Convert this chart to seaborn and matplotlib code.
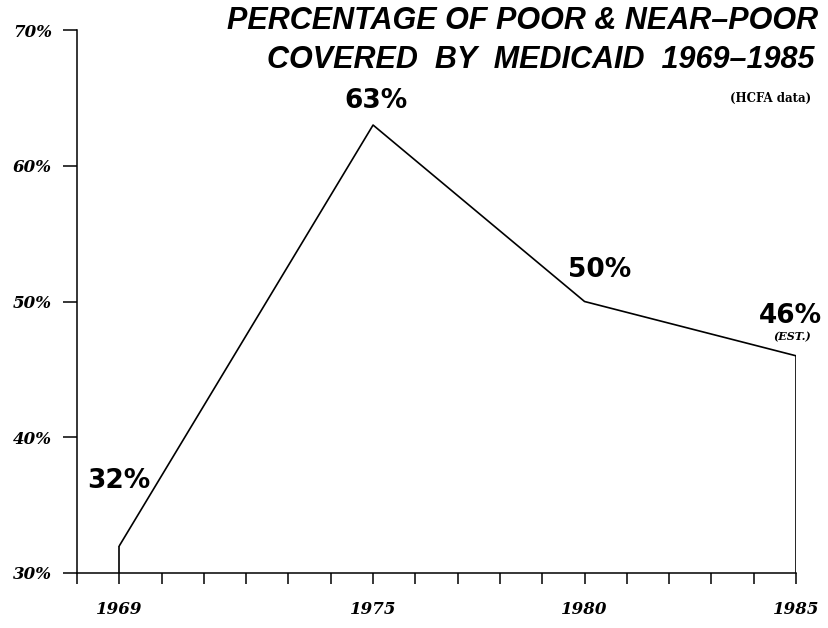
"""Percentage of poor & near-poor covered by Medicaid, 1969-1985 (HCFA data)."""

import matplotlib

matplotlib.use("Agg")
import matplotlib.pyplot as plt
import seaborn as sns

YEARS = [1969, 1975, 1980, 1985]
COVERAGE = [32, 63, 50, 46]
VALUE_LABELS = ["32%", "63%", "50%", "46%"]
Y_TICKS = [30, 40, 50, 60, 70]
Y_TICK_LABELS = ["30%", "40%", "50%", "60%", "70%"]
YEAR_TICKS = list(range(1968, 1986))
LABELED_YEARS = [1969, 1975, 1980, 1985]
TITLE_LINES = ["PERCENTAGE OF POOR & NEAR\u2013POOR", "COVERED  BY  MEDICAID  1969\u20131985"]

# label offsets in points from each data point
LABEL_OFFSETS = [(0, 47), (2, 17), (11, 23), (-4, 29)]


def draw_chart() -> None:
    sns.set_theme(style="white")
    plt.rcParams.update({"text.color": "black", "xtick.color": "black",
                         "ytick.color": "black", "axes.edgecolor": "black"})
    fig = plt.figure(figsize=(8.29, 6.28), dpi=100)
    ax = fig.add_axes([0.0929, 0.0876, 0.8673, 0.8646])

    sns.lineplot(x=YEARS, y=COVERAGE, color="black", linewidth=1.2, ax=ax)
    ax.vlines([YEARS[0], YEARS[-1]], Y_TICKS[0], [COVERAGE[0], COVERAGE[-1]],
              color="black", linewidth=1.2)

    ax.set_xlim(YEAR_TICKS[0], YEAR_TICKS[-1])
    ax.set_ylim(Y_TICKS[0], Y_TICKS[-1])
    sns.despine(ax=ax, top=True, right=True)
    for side in ("left", "bottom"):
        ax.spines[side].set_color("black")
        ax.spines[side].set_linewidth(1.1)

    tick_font = {"family": "DejaVu Serif", "style": "italic", "weight": "bold",
                 "size": 12, "color": "black"}
    ax.set_xticks(YEAR_TICKS)
    ax.set_xticklabels([str(y) if y in LABELED_YEARS else "" for y in YEAR_TICKS], fontdict=tick_font)
    ax.set_yticks(Y_TICKS)
    ax.set_yticklabels(Y_TICK_LABELS, fontdict=tick_font)
    ax.tick_params(axis="x", direction="out", length=8, width=1.1, color="black", pad=12)
    ax.tick_params(axis="y", direction="out", length=10, width=1.1, color="black", pad=8)
    ax.tick_params(bottom=True, left=True)
    ax.grid(False)

    for year, value, label, offset in zip(YEARS, COVERAGE, VALUE_LABELS, LABEL_OFFSETS):
        ax.annotate(label, (year, value), xytext=offset, textcoords="offset points",
                    ha="center", va="center", fontsize=19, fontweight="bold",
                    family="DejaVu Sans", color="black", annotation_clip=False)
    ax.annotate("(EST.)", (YEARS[-1], COVERAGE[-1]), xytext=(-3, 14), textcoords="offset points",
                ha="center", va="center", fontsize=8, fontweight="bold", style="italic",
                family="DejaVu Serif", color="black", annotation_clip=False)

    title_font = {"family": "Liberation Sans", "style": "italic", "weight": "bold",
                  "size": 22, "color": "black"}
    fig.text(0.987, 0.966, TITLE_LINES[0], ha="right", va="center", **title_font)
    fig.text(0.983, 0.905, TITLE_LINES[1], ha="right", va="center", **title_font)
    fig.text(0.978, 0.844, "(HCFA data)", ha="right", va="center", fontsize=8.5,
             fontweight="bold", family="DejaVu Serif", color="black")

    fig.savefig("out.png", dpi=100, facecolor="white")
    plt.close(fig)


def main() -> None:
    draw_chart()


if __name__ == "__main__":
    main()
